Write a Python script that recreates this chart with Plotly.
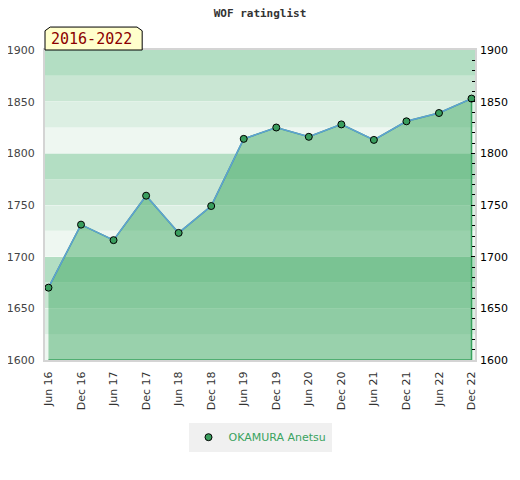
import plotly.graph_objects as go

# rating history, one value every half year
periods = ["Jun 16", "Dec 16", "Jun 17", "Dec 17", "Jun 18", "Dec 18", "Jun 19",
           "Dec 19", "Jun 20", "Dec 20", "Jun 21", "Dec 21", "Jun 22", "Dec 22"]
ratings = [1670, 1731, 1716, 1759, 1723, 1749, 1814,
           1825, 1816, 1828, 1813, 1831, 1839, 1853]
player = "OKAMURA Anetsu"
span_label = "2016-2022"

y_min, y_max = 1600, 1900
band_colors = ["#eef7f1", "#dcefe3", "#c9e6d3", "#b3dec3"]  # bottom -> top of each 100 block

fig = go.Figure()

# filled area under the curve (closed down to the axis floor)
fig.add_trace(go.Scatter(
    x=periods + [periods[-1], periods[0]],
    y=ratings + [y_min, y_min],
    fill="toself", fillcolor="rgba(57,166,94,0.47)",
    mode="lines", line=dict(color="#3aa35f", width=1.5),
    hoverinfo="skip", showlegend=False))

# rating line
fig.add_trace(go.Scatter(
    x=periods, y=ratings, mode="lines",
    line=dict(color="#5fa0d6", width=1.5),
    showlegend=False, hoverinfo="skip"))

# points
fig.add_trace(go.Scatter(
    x=periods, y=ratings, mode="markers", name=player,
    marker=dict(color="#3a9e5e", size=7, line=dict(color="black", width=1))))

# dummy trace to get the right hand axis
fig.add_trace(go.Scatter(x=periods, y=ratings, yaxis="y2", mode="none",
                         showlegend=False, hoverinfo="skip"))

# background bands, 25 points each
shapes = []
lo = y_min
i = 0
while lo < y_max:
    shapes.append(dict(type="rect", xref="paper", yref="y", layer="below",
                       x0=0, x1=1, y0=lo, y1=lo + 25,
                       fillcolor=band_colors[i % 4], line=dict(width=0)))
    lo += 25
    i += 1

# label tab with cut corners
shapes.append(dict(type="path", xref="paper", yref="paper", layer="above",
                   path="M 0,1 L 0,1.062 L 0.012,1.074 L 0.214,1.074 L 0.226,1.062 L 0.226,1 Z",
                   fillcolor="#ffffcc", line=dict(color="black", width=1)))

# page body has an 8px margin, so the figure is a bit smaller than the window
fig.update_layout(
    width=504, height=464,
    margin=dict(l=37, r=37, t=42, b=112, autoexpand=False),
    paper_bgcolor="white", plot_bgcolor="white",
    title=dict(text="<b>WOF ratinglist</b>", x=0.5, xanchor="center", y=0.988, yanchor="middle",
               font=dict(family="DejaVu Sans Mono", size=11, color="#333")),
    font=dict(family="DejaVu Sans", size=11, color="#444"),
    shapes=shapes,
    showlegend=True,
    legend=dict(orientation="h", x=0.5, xanchor="center", y=-0.249, yanchor="middle",
                bgcolor="#f0f0f0", font=dict(color="#3aa35f", size=11)),
    xaxis=dict(type="category", range=[-0.107, len(periods) - 1 + 0.107],
               tickangle=-90, showgrid=False, ticks="", automargin=False,
               showline=True, linecolor="#d4d4d4", linewidth=2, mirror=True,
               ticklabelstandoff=5, tickfont=dict(color="#333", size=11)),
    yaxis=dict(range=[y_min, y_max], dtick=50, showgrid=True, automargin=False,
               gridcolor="rgba(255,255,255,0.35)", gridwidth=1, zeroline=False,
               showline=True, linecolor="#d4d4d4", linewidth=2, mirror=True,
               ticks="", ticklabelstandoff=6, tickfont=dict(color="#444", size=11)),
    yaxis2=dict(range=[y_min, y_max], dtick=50, overlaying="y", side="right",
                showgrid=False, zeroline=False, ticks="inside", ticklen=4, automargin=False,
                tickcolor="black", tickfont=dict(color="black", size=11), ticklabelstandoff=4,
                minor=dict(dtick=10, ticks="inside", ticklen=3, tickcolor="black")),
    annotations=[dict(text=span_label, xref="paper", yref="paper", x=0.109, y=1.037,
                      xanchor="center", yanchor="middle", showarrow=False,
                      font=dict(family="DejaVu Sans Mono", size=15, color="#8b0000"))],
)

fig.write_html("out.html")
